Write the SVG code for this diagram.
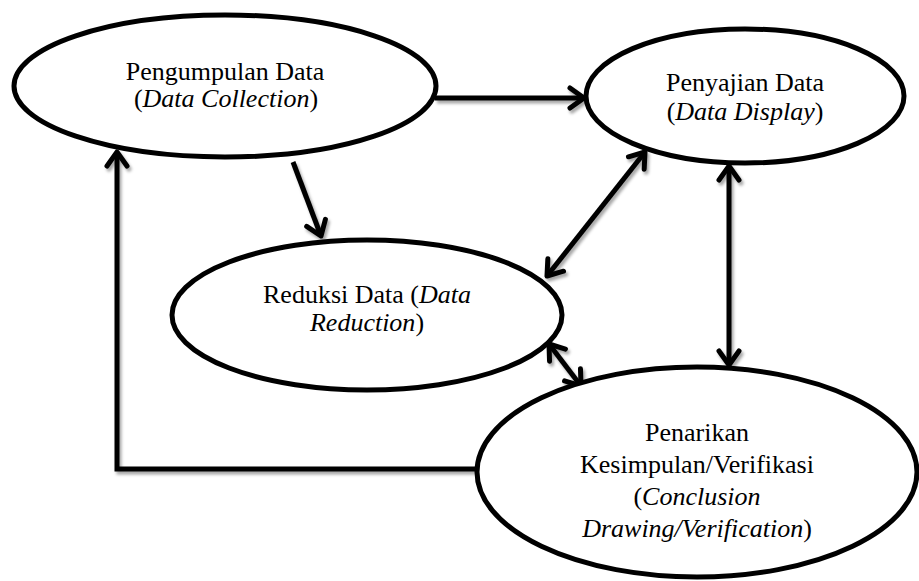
<svg xmlns="http://www.w3.org/2000/svg" width="919" height="581" viewBox="0 0 919 581">
  <style>
    .node { fill: #ffffff; stroke: #000000; stroke-width: 5; }
    .label { font-family: 'Liberation Serif', 'Tinos', 'DejaVu Serif', serif; font-size: 26px; fill: #000000; text-anchor: middle; }
    .it { font-style: italic; }
    .link { fill: none; stroke: #000000; stroke-width: 5; stroke-linejoin: miter; }
    .head { fill: none; stroke: #000000; stroke-width: 5; stroke-linecap: round; stroke-linejoin: round; }
  </style>
  <defs>
    <marker id="arrow" viewBox="-20 -14 26 28" markerUnits="userSpaceOnUse" markerWidth="26" markerHeight="28" refX="0" refY="0" orient="auto-start-reverse">
      <path class="head" d="M -14 -10 L 0 0 L -14 10"/>
    </marker>
    <filter id="shadow" x="-20%" y="-20%" width="140%" height="140%">
      <feDropShadow dx="2" dy="3" stdDeviation="1.8" flood-color="#000000" flood-opacity="0.35"/>
    </filter>
  </defs>

  <rect width="919" height="581" fill="#ffffff"/>

  <!-- connectors -->
  <g id="connectors" filter="url(#shadow)">
    <line class="link" x1="435" y1="98" x2="584" y2="98" marker-end="url(#arrow)"/>
    <line class="link" x1="293" y1="162" x2="321" y2="236" marker-end="url(#arrow)"/>
    <line class="link" x1="645" y1="152" x2="547" y2="276" marker-start="url(#arrow)" marker-end="url(#arrow)"/>
    <line class="link" x1="729" y1="166" x2="729" y2="365" marker-start="url(#arrow)" marker-end="url(#arrow)"/>
    <line class="link" x1="549" y1="344" x2="581" y2="386" marker-start="url(#arrow)" marker-end="url(#arrow)"/>
    <path class="link" d="M 478 469 H 117 V 152" marker-end="url(#arrow)"/>
  </g>

  <!-- Pengumpulan Data -->
  <g id="node-collection">
    <ellipse class="node" cx="225" cy="86" rx="211" ry="71"/>
    <text class="label" font-family="Liberation Serif, serif" x="225" y="80">Pengumpulan Data</text>
    <text class="label" font-family="Liberation Serif, serif" x="226" y="107">(<tspan class="it">Data Collection</tspan>)</text>
  </g>

  <!-- Penyajian Data -->
  <g id="node-display">
    <ellipse class="node" cx="745" cy="96" rx="159" ry="67"/>
    <text class="label" font-family="Liberation Serif, serif" x="745" y="91">Penyajian Data</text>
    <text class="label" font-family="Liberation Serif, serif" x="745" y="120">(<tspan class="it">Data Display</tspan>)</text>
  </g>

  <!-- Reduksi Data -->
  <g id="node-reduction">
    <ellipse class="node" cx="367" cy="315" rx="195" ry="75"/>
    <text class="label" font-family="Liberation Serif, serif" x="367" y="303">Reduksi Data (<tspan class="it">Data</tspan></text>
    <text class="label" font-family="Liberation Serif, serif" x="367" y="331"><tspan class="it">Reduction</tspan>)</text>
  </g>

  <!-- Penarikan Kesimpulan -->
  <g id="node-conclusion">
    <ellipse class="node" cx="697" cy="472" rx="220" ry="105"/>
    <text class="label" font-family="Liberation Serif, serif" x="697" y="441">Penarikan</text>
    <text class="label" font-family="Liberation Serif, serif" x="697" y="473">Kesimpulan/Verifikasi</text>
    <text class="label" font-family="Liberation Serif, serif" x="697" y="505">(<tspan class="it">Conclusion</tspan></text>
    <text class="label" font-family="Liberation Serif, serif" x="697" y="537"><tspan class="it">Drawing/Verification</tspan>)</text>
  </g>
</svg>
